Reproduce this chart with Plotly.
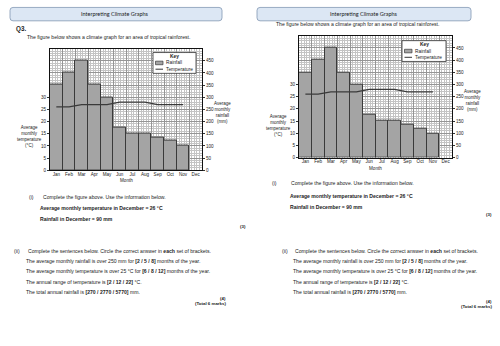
import plotly.graph_objects as go

W, H = 500, 346

months = ["Jan", "Feb", "Mar", "Apr", "May", "Jun", "Jul", "Aug", "Sep", "Oct", "Nov", "Dec"]
rainfall_mm = [350, 400, 450, 350, 300, 175, 150, 150, 135, 120, 100, None]
temperature_c = [26, 26, 27, 27, 27, 28, 28, 28, 27, 27, 27]
temp_ticks = [0, 5, 10, 15, 20, 25, 30]
rain_ticks = [0, 50, 100, 150, 200, 250, 300, 350, 400, 450]

FONT = "Liberation Sans"
HEAD_FONT = "Lato"
TXT = "#222222"
BODY = 5.1


def px(x):
    return x / W


def py(y):
    return 1 - y / H


# panel layout (pixel positions)
panels = [
    dict(ax=("x", "y", "x2", "y2"), chart=(50, 202, 49, 171.7), key=(153, 196, 53, 74),
         head=(10, 222, 7.5, 21), headc=(115, 14.2),
         q3=True, intro=(26, 37.5),
         ltitle=(29, 138), rtitle=(222, 113), month_lbl=(126, 182.3),
         part_i=(28, 42, 199), bold=(39, 210, 221), m3=(247, 228),
         part_ii=(13, 27, 252.7), lines_x=25, lines_y=[263.3, 273.3, 284, 294.3],
         m4=(227, 301), tot=(227, 306.5)),
    dict(ax=("x3", "y3", "x4", "y4"), chart=(299, 452, 36, 159), key=(402, 446, 41, 62),
         head=(257, 471, 7.5, 21), headc=(364, 14.2),
         q3=False, intro=(275, 24.5),
         ltitle=(278, 127), rtitle=(472, 101), month_lbl=(375, 169.5),
         part_i=(271, 290, 184.5), bold=(289, 197.5, 209), m3=(493, 216),
         part_ii=(281, 294, 252.7), lines_x=292, lines_y=[263.3, 273.3, 284, 294.3],
         m4=(493, 304.5), tot=(493, 309.5)),
]

fig = go.Figure()
annotations = []
shapes = []


def ann(text, x, y, xanchor="left", size=BODY, family=FONT, color=TXT, align="left"):
    annotations.append(dict(text=text, x=px(x), y=py(y), xref="paper", yref="paper",
                            xanchor=xanchor, yanchor="middle", showarrow=False,
                            align=align, font=dict(family=family, size=size, color=color),
                            borderpad=0))


def rounded_rect(x0, x1, y0, y1, r=3):
    rx, ry = r / W, r / H
    X0, X1, Y0, Y1 = px(x0), px(x1), py(y0), py(y1)
    return (f"M {X0 + rx},{Y0} L {X1 - rx},{Y0} Q {X1},{Y0} {X1},{Y0 - ry} "
            f"L {X1},{Y1 + ry} Q {X1},{Y1} {X1 - rx},{Y1} L {X0 + rx},{Y1} "
            f"Q {X0},{Y1} {X0},{Y1 + ry} L {X0},{Y0 - ry} Q {X0},{Y0} {X0 + rx},{Y0} Z")


layout_axes = {}
xs = list(range(len(months)))
TICKF = dict(family=FONT, size=4.6, color=TXT)

for p in panels:
    xa, ya, xb, yb = p["ax"]
    x0, x1, yt, yb_px = p["chart"]

    fig.add_trace(go.Bar(x=xs, y=rainfall_mm, width=1, xaxis=xa, yaxis=ya,
                         marker=dict(color="#a4a4a4", line=dict(color="#3a3a3a", width=1)),
                         showlegend=False, hoverinfo="skip"))
    fig.add_trace(go.Scatter(x=xs[:len(temperature_c)], y=temperature_c, mode="lines",
                             xaxis=xb, yaxis=yb, line=dict(color="#3a3a3a", width=1.3),
                             showlegend=False, hoverinfo="skip"))

    dom_x = [px(x0), px(x1)]
    dom_y = [py(yb_px), py(yt)]
    xn = "xaxis" + xa[1:]
    xbn = "xaxis" + xb[1:]
    yn = "yaxis" + ya[1:]
    ybn = "yaxis" + yb[1:]
    layout_axes[xn] = dict(domain=dom_x, range=[-0.5, 11.5], anchor=ya,
                           tick0=-0.5, dtick=1, showgrid=True, gridcolor="#959595", gridwidth=0.7,
                           showticklabels=False, ticks="", zeroline=False,
                           showline=True, linecolor="#111", linewidth=1, mirror=True,
                           minor=dict(tick0=-0.5, dtick=0.2, showgrid=True,
                                      gridcolor="#c4c4c4", gridwidth=0.5))
    layout_axes[xbn] = dict(overlaying=xa, range=[-0.5, 11.5], anchor=ya,
                            tickmode="array", tickvals=xs, ticktext=months,
                            showgrid=False, zeroline=False, side="bottom",
                            ticks="", tickfont=TICKF)
    layout_axes[yn] = dict(domain=dom_y, range=[0, 500], anchor=xa, side="right",
                           tickmode="array", tickvals=rain_ticks,
                           showgrid=True, gridcolor="#959595", gridwidth=0.7, zeroline=False,
                           minor=dict(dtick=10, tick0=0, showgrid=True,
                                      gridcolor="#c4c4c4", gridwidth=0.5),
                           showline=True, linecolor="#111", linewidth=1,
                           ticks="outside", ticklen=2, tickcolor="#333",
                           tickfont=TICKF)
    layout_axes[ybn] = dict(overlaying=ya, range=[0, 50], anchor=xa, side="left",
                            tickmode="array", tickvals=temp_ticks,
                            showgrid=False, zeroline=False,
                            showline=True, linecolor="#111", linewidth=1,
                            ticks="outside", ticklen=2, tickcolor="#333",
                            tickfont=TICKF)

    # header box
    hx0, hx1, hy0, hy1 = p["head"]
    shapes.append(dict(type="path", xref="paper", yref="paper",
                       path=rounded_rect(hx0, hx1, hy0, hy1),
                       fillcolor="#dce7f4", line=dict(color="#8197b3", width=0.8)))
    ann("Interpreting Climate Graphs", p["headc"][0], p["headc"][1], xanchor="center",
        size=5.5, family=HEAD_FONT, color="#1a1a1a")
    if p["q3"]:
        ann("<b>Q3.</b>", 15, 29.5, size=6.3)
    ann("The figure below shows a climate graph for an area of tropical rainforest.",
        p["intro"][0], p["intro"][1])

    # key box
    kx0, kx1, ky0, ky1 = p["key"]
    shapes.append(dict(type="rect", xref="paper", yref="paper",
                       x0=px(kx0), x1=px(kx1), y0=py(ky0), y1=py(ky1),
                       fillcolor="white", line=dict(color="#333", width=0.8)))
    kh = ky1 - ky0
    ann("<b>Key</b>", (kx0 + kx1) / 2, ky0 + kh * 0.2, xanchor="center", size=4.9)
    sy = ky0 + kh * 0.5
    shapes.append(dict(type="rect", xref="paper", yref="paper",
                       x0=px(kx0 + 2.5), x1=px(kx0 + 10), y0=py(sy - 1.8), y1=py(sy + 1.8),
                       fillcolor="#a4a4a4", line=dict(color="#3a3a3a", width=0.7)))
    ann("Rainfall", kx0 + 11.5, sy, size=4.8)
    ly = ky0 + kh * 0.8
    shapes.append(dict(type="line", xref="paper", yref="paper",
                       x0=px(kx0 + 2.5), x1=px(kx0 + 10), y0=py(ly), y1=py(ly),
                       line=dict(color="#333", width=1)))
    ann("Temperature", kx0 + 11.5, ly, size=4.8)

    # axis titles
    ann("Average<br>monthly<br>temperature<br>(°C)", p["ltitle"][0], p["ltitle"][1],
        xanchor="center", size=4.5, align="center")
    ann("Average<br>monthly<br>rainfall<br>(mm)", p["rtitle"][0], p["rtitle"][1],
        xanchor="center", size=4.5, align="center")
    ann("Month", p["month_lbl"][0], p["month_lbl"][1], xanchor="center", size=4.6)

    # part (i)
    ix, itx, iy = p["part_i"]
    ann("(i)", ix, iy)
    ann("Complete the figure above. Use the information below.", itx, iy)
    bx, by1, by2 = p["bold"]
    ann("<b>Average monthly temperature in December = 26 °C</b>", bx, by1, size=5.1)
    ann("<b>Rainfall in December = 90 mm</b>", bx, by2, size=5.1)
    ann("<b>(3)</b>", p["m3"][0], p["m3"][1], xanchor="right", size=4.4)

    # part (ii)
    iix, iitx, iiy = p["part_ii"]
    ann("(ii)", iix, iiy)
    ann("Complete the sentences below. Circle the correct answer in <b>each</b> set of brackets.",
        iitx, iiy)
    sentences = [
        "The average monthly rainfall is over 250 mm for <b>[2 / 5 / 8]</b> months of the year.",
        "The average monthly temperature is over 25 °C for <b>[6 / 8 / 12]</b> months of the year.",
        "The annual range of temperature is <b>[2 / 12 / 22]</b> °C.",
        "The total annual rainfall is <b>[270 / 2770 / 5770]</b> mm.",
    ]
    for s, yy in zip(sentences, p["lines_y"]):
        ann(s, p["lines_x"], yy)
    ann("<b>(4)</b>", p["m4"][0], p["m4"][1], xanchor="right", size=4.4)
    ann("<b>(Total 6 marks)</b>", p["tot"][0], p["tot"][1], xanchor="right", size=4.4)

fig.update_layout(width=W, height=H, margin=dict(l=0, r=0, t=0, b=0),
                  paper_bgcolor="white", plot_bgcolor="white",
                  bargap=0, showlegend=False,
                  annotations=annotations, shapes=shapes, **layout_axes)

fig.write_html("out.html")
